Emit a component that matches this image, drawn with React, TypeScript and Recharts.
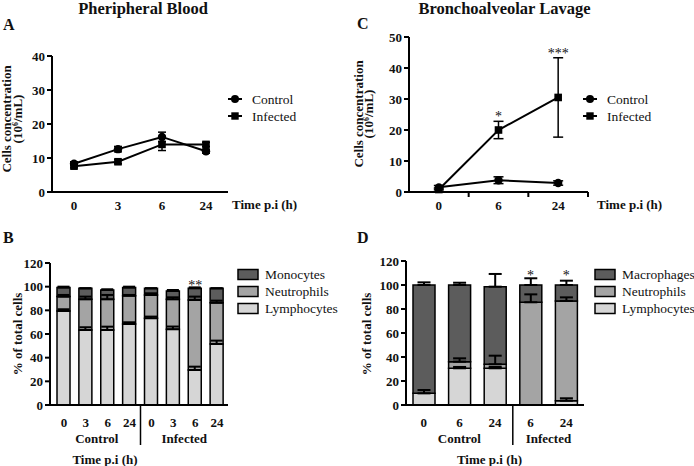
import React from 'react';
import {
  LineChart,
  Line,
  XAxis,
  YAxis,
  ErrorBar,
  ComposedChart,
  Bar,
  Legend,
} from 'recharts';

const FONT = 'Liberation Serif, DejaVu Serif, serif';
const INK = '#111';
const LIGHT = '#d6d6d6';
const MID = '#a4a4a4';
const DARK = '#5c5c5c';

// ---------- Panel A: Peripheral blood, cell concentration ----------
const timesA = ['0', '3', '6', '24'];
const controlA = [8.3, 12.6, 16.2, 12.0];
const controlAErr = [0.6, 0.8, 1.4, 0.6];
const infectedA = [7.6, 8.9, 14.0, 14.0];
const infectedAErr = [0.5, 0.6, 1.8, 0.6];

// ---------- Panel C: BAL, cell concentration ----------
const timesC = ['0', '6', '24'];
const controlC = [1.5, 3.8, 2.9];
const controlCErr = [0.6, 1.1, 0.7];
const infectedC = [0.8, 20.0, 30.5];
const infectedCErr = [0.5, 2.8, 12.8];
const starsC = ['', '*', '***'];
const starsCY = [null, 25.1, 45.5];

// ---------- Panel B: Peripheral blood, % of cells ----------
const timesB = ['0', '3', '6', '24', '0', '3', '6', '24'];
const groupsB = ['Control', 'Control', 'Control', 'Control', 'Infected', 'Infected', 'Infected', 'Infected'];
const lymphB = [79.5, 63.4, 63.4, 68.5, 73.3, 64.0, 29.6, 51.6];
const lymphBErr = [1.4, 2.3, 2.8, 1.4, 1.4, 2.3, 2.8, 2.8];
const neutB = [12.1, 25.9, 25.9, 23.9, 19.7, 25.3, 59.2, 34.9];
const neutBErr = [1.4, 2.3, 3.7, 0.6, 1.4, 1.7, 2.8, 1.7];
const monoB = [7.6, 9.3, 7.9, 6.8, 5.6, 7.1, 9.8, 12.1];
const monoBErr = [0.8, 0, 0.6, 0.8, 0, 0.8, 0.8, 0];
const starsB = ['', '', '', '', '', '', '**', ''];
const starsBY = [null, null, null, null, null, null, 103, null];

// ---------- Panel D: BAL, % of cells ----------
const timesD = ['0', '6', '24', '6', '24'];
const groupsD = ['Control', 'Control', 'Control', 'Infected', 'Infected'];
const lymphD = [9.7, 30.6, 30.6, 0, 3.6];
const lymphDErr = [2.8, 1.1, 1.1, 0, 2.0];
const neutD = [0, 5.5, 3.3, 85.6, 83.1];
const neutDErr = [0, 2.8, 7.2, 6.6, 3.0];
const macD = [90.3, 63.9, 64.7, 14.4, 13.3];
const macDErr = [2.2, 1.9, 10.6, 5.6, 3.6];
const starsD = ['', '', '', '*', '*'];
const starsDY = [null, null, null, 110, 110];

const lineSeries = ['Control', 'Infected'];
const legendB = [
  { name: 'Monocytes', color: DARK },
  { name: 'Neutrophils', color: MID },
  { name: 'Lymphocytes', color: LIGHT },
];
const legendD = [
  { name: 'Macrophages', color: DARK },
  { name: 'Neutrophils', color: MID },
  { name: 'Lymphocytes', color: LIGHT },
];

// ---------- data tables ----------
const dataA = timesA.map((t, i) => ({
  time: t,
  control: controlA[i],
  controlErr: controlAErr[i],
  infected: infectedA[i],
  infectedErr: infectedAErr[i],
}));
const dataC = timesC.map((t, i) => ({
  time: t,
  control: controlC[i],
  controlErr: controlCErr[i],
  infected: infectedC[i],
  infectedErr: infectedCErr[i],
  star: starsC[i],
  starY: starsCY[i],
}));
const dataB = timesB.map((t, i) => ({
  key: `b${i}`,
  lymph: lymphB[i],
  lymphErr: [0, lymphBErr[i]],
  neut: neutB[i],
  neutErr: [0, neutBErr[i]],
  mono: monoB[i],
  monoErr: [0, monoBErr[i]],
  star: starsB[i],
  starY: starsBY[i],
}));
const dataD = timesD.map((t, i) => ({
  key: `d${i}`,
  lymph: lymphD[i],
  lymphErr: [0, lymphDErr[i]],
  neut: neutD[i],
  neutErr: [0, neutDErr[i]],
  mac: macD[i],
  macErr: [0, macDErr[i]],
  star: starsD[i],
  starY: starsDY[i],
}));

// ---------- shared styles ----------
const axisLine = { stroke: '#000', strokeWidth: 2 };
const tickLine = { stroke: '#000', strokeWidth: 2 };
const yTick = { fontFamily: FONT, fontSize: 13, fontWeight: 700, fill: INK };
const boldText = { fontFamily: FONT, fontSize: 13, fontWeight: 700, fill: INK } as const;

const CircleDot = (p: any) =>
  p.cx == null || p.cy == null ? (
    <g key={`c${p.index}`} />
  ) : (
    <circle key={`c${p.index}`} cx={p.cx} cy={p.cy} r={4.2} fill="#000" />
  );
const SquareDot = (p: any) =>
  p.cx == null || p.cy == null ? (
    <g key={`s${p.index}`} />
  ) : (
    <rect key={`s${p.index}`} x={p.cx - 3.8} y={p.cy - 3.8} width={7.6} height={7.6} fill="#000" />
  );
const StarDot = (p: any) => {
  const s = p.payload && p.payload.star;
  if (!s || p.cy == null || p.cx == null) return <g key={`st${p.index}`} />;
  return (
    <text
      key={`st${p.index}`}
      x={p.cx}
      y={p.cy + 7}
      textAnchor="middle"
      fontFamily={FONT}
      fontSize={14}
      style={{ fill: '#111', stroke: 'none' }}
    >
      {s}
    </text>
  );
};

const LineLegend = () => (
  <svg width={110} height={36} style={{ overflow: 'visible', display: 'block' }}>
    {lineSeries.map((name, i) => {
      const cy = 8 + i * 17;
      return (
        <g key={name}>
          <line x1={3} x2={17} y1={cy} y2={cy} stroke="#000" strokeWidth={2} />
          {i === 0 ? (
            <circle cx={10} cy={cy} r={4} fill="#000" />
          ) : (
            <rect x={6.3} y={cy - 3.7} width={7.4} height={7.4} fill="#000" />
          )}
          <text x={27} y={cy + 4.5} fontFamily={FONT} fontSize={13.5} fill={INK}>
            {name}
          </text>
        </g>
      );
    })}
  </svg>
);

const BarLegend = ({ items }: { items: { name: string; color: string }[] }) => (
  <svg width={112} height={52} style={{ overflow: 'visible', display: 'block' }}>
    {items.map((it, i) => {
      const cy = 7.5 + i * 17;
      return (
        <g key={it.name}>
          <rect x={2} y={cy - 5} width={20} height={10} fill={it.color} stroke="#000" strokeWidth={1.5} />
          <text x={29} y={cy + 4.5} fontFamily={FONT} fontSize={13.5} fill={INK}>
            {it.name}
          </text>
        </g>
      );
    })}
  </svg>
);

const makeLineTick = (labels: string[], band: number, boundaryTicks: boolean) => (p: any) => {
  const { x, y, index } = p;
  return (
    <g>
      <text x={x} y={y + 17.5} textAnchor="middle" {...boldText}>
        {labels[index]}
      </text>
      {boundaryTicks ? (
        <line x1={x + band / 2} x2={x + band / 2} y1={y} y2={y + 5} stroke="#000" strokeWidth={2} />
      ) : null}
    </g>
  );
};

function groupInfo(groups: string[]) {
  const names: string[] = [];
  groups.forEach((g) => {
    if (names.indexOf(g) < 0) names.push(g);
  });
  return names.map((n) => {
    const idx = groups.map((g, i) => (g === n ? i : -1)).filter((i) => i >= 0);
    return { name: n, first: idx[0], center: (idx[0] + idx[idx.length - 1]) / 2 };
  });
}

const makeBarTick = (labels: string[], groups: string[], band: number) => (p: any) => {
  const { x, y, index } = p;
  const info = groupInfo(groups);
  const kids: any[] = [
    <text key="l" x={x} y={y + 21.5} textAnchor="middle" {...boldText}>
      {labels[index]}
    </text>,
  ];
  info.forEach((g, gi) => {
    if (gi > 0 && g.first === index) {
      kids.push(
        <line key="div" x1={x - band / 2} x2={x - band / 2} y1={y} y2={y + 40} stroke="#000" strokeWidth={1.5} />
      );
    }
    if (Math.floor(g.center) === index) {
      kids.push(
        <text key={`g${gi}`} x={x + (g.center - index) * band} y={y + 38} textAnchor="middle" {...boldText}>
          {g.name}
        </text>
      );
    }
  });
  return <g>{kids}</g>;
};

// ---------- geometry ----------
const A_PLOT_W = 176;
const bandA = A_PLOT_W / timesA.length;
const C_PLOT_W = 179;
const bandC = C_PLOT_W / timesC.length;
const B_PAD = 3;
const bandB = (178 - B_PAD) / timesB.length;
const bandD = 178 / timesD.length;

function PanelA() {
  return (
    <LineChart width={347} height={233} data={dataA} margin={{ top: 56, right: 119, bottom: 0, left: 22 }}>
      <XAxis
        dataKey="time"
        type="category"
        scale="point"
        padding={{ left: bandA / 2, right: bandA / 2 }}
        height={41}
        axisLine={axisLine}
        tickLine={false}
        tickSize={0}
        tickMargin={0}
        interval={0}
        tick={makeLineTick(timesA, bandA, false)}
      />
      <YAxis
        type="number"
        domain={[0, 40]}
        ticks={[0, 10, 20, 30, 40]}
        interval={0}
        width={30}
        axisLine={axisLine}
        tickLine={tickLine}
        tickSize={5}
        tickMargin={2}
        tick={yTick}
      />
      <Line dataKey="infected" stroke="#000" strokeWidth={2} dot={SquareDot} activeDot={false} isAnimationActive={false}>
        <ErrorBar dataKey="infectedErr" width={4} stroke="#000" strokeWidth={1.5} direction="y" />
      </Line>
      <Line dataKey="control" stroke="#000" strokeWidth={2} dot={CircleDot} activeDot={false} isAnimationActive={false}>
        <ErrorBar dataKey="controlErr" width={4} stroke="#000" strokeWidth={1.5} direction="y" />
      </Line>
      <Legend
        layout="horizontal"
        verticalAlign="middle"
        align="center"
        wrapperStyle={{ left: 225, top: 90.5, width: 110, margin: 0 }}
        content={() => <LineLegend />}
      />
    </LineChart>
  );
}

function PanelC() {
  return (
    <LineChart width={347} height={233} data={dataC} margin={{ top: 37, right: 106, bottom: 0, left: 32 }}>
      <XAxis
        dataKey="time"
        type="category"
        scale="point"
        padding={{ left: bandC / 2, right: bandC / 2 }}
        height={41}
        axisLine={axisLine}
        tickLine={false}
        tickSize={0}
        tickMargin={0}
        interval={0}
        tick={makeLineTick(timesC, bandC, true)}
      />
      <YAxis
        type="number"
        domain={[0, 50]}
        ticks={[0, 10, 20, 30, 40, 50]}
        interval={0}
        width={30}
        axisLine={axisLine}
        tickLine={tickLine}
        tickSize={5}
        tickMargin={2}
        tick={yTick}
      />
      <Line dataKey="infected" stroke="#000" strokeWidth={2} dot={SquareDot} activeDot={false} isAnimationActive={false}>
        <ErrorBar dataKey="infectedErr" width={5} stroke="#000" strokeWidth={1.5} direction="y" />
      </Line>
      <Line dataKey="control" stroke="#000" strokeWidth={2} dot={CircleDot} activeDot={false} isAnimationActive={false}>
        <ErrorBar dataKey="controlErr" width={5} stroke="#000" strokeWidth={1.5} direction="y" />
      </Line>
      <Line
        dataKey="starY"
        stroke="none"
        dot={StarDot}
        activeDot={false}
        legendType="none"
        isAnimationActive={false}
      />
      <Legend
        layout="horizontal"
        verticalAlign="middle"
        align="center"
        wrapperStyle={{ left: 233, top: 91, width: 110, margin: 0 }}
        content={() => <LineLegend />}
      />
    </LineChart>
  );
}

function PanelB() {
  return (
    <ComposedChart width={347} height={233} data={dataB} margin={{ top: 30, right: 119, bottom: 0, left: 20 }}>
      <XAxis
        dataKey="key"
        height={61}
        padding={{ left: B_PAD, right: 0 }}
        axisLine={axisLine}
        tickLine={false}
        tickSize={0}
        tickMargin={0}
        interval={0}
        tick={makeBarTick(timesB, groupsB, bandB)}
      />
      <YAxis
        type="number"
        domain={[0, 120]}
        ticks={[0, 20, 40, 60, 80, 100, 120]}
        interval={0}
        width={30}
        axisLine={axisLine}
        tickLine={tickLine}
        tickSize={5}
        tickMargin={2}
        tick={yTick}
      />
      <Bar dataKey="lymph" stackId="s" fill={LIGHT} stroke="#000" strokeWidth={1.5} barSize={13} isAnimationActive={false}>
        <ErrorBar dataKey="lymphErr" width={6} stroke="#000" strokeWidth={2} direction="y" />
      </Bar>
      <Bar dataKey="neut" stackId="s" fill={MID} stroke="#000" strokeWidth={1.5} barSize={13} isAnimationActive={false}>
        <ErrorBar dataKey="neutErr" width={6} stroke="#000" strokeWidth={2} direction="y" />
      </Bar>
      <Bar dataKey="mono" stackId="s" fill={DARK} stroke="#000" strokeWidth={1.5} barSize={13} isAnimationActive={false}>
        <ErrorBar dataKey="monoErr" width={6} stroke="#000" strokeWidth={2} direction="y" />
      </Bar>
      <Line dataKey="starY" stroke="none" dot={StarDot} activeDot={false} legendType="none" isAnimationActive={false} />
      <Legend
        layout="horizontal"
        verticalAlign="middle"
        align="center"
        wrapperStyle={{ left: 236, top: 34, width: 112, margin: 0 }}
        content={() => <BarLegend items={legendB} />}
      />
    </ComposedChart>
  );
}

function PanelD() {
  return (
    <ComposedChart width={347} height={233} data={dataD} margin={{ top: 28, right: 110, bottom: 0, left: 29 }}>
      <XAxis
        dataKey="key"
        height={61}
        axisLine={axisLine}
        tickLine={false}
        tickSize={0}
        tickMargin={0}
        interval={0}
        tick={makeBarTick(timesD, groupsD, bandD)}
      />
      <YAxis
        type="number"
        domain={[0, 120]}
        ticks={[0, 20, 40, 60, 80, 100, 120]}
        interval={0}
        width={30}
        axisLine={axisLine}
        tickLine={tickLine}
        tickSize={5}
        tickMargin={2}
        tick={yTick}
      />
      <Bar dataKey="lymph" stackId="s" fill={LIGHT} stroke="#000" strokeWidth={1.5} barSize={22} isAnimationActive={false}>
        <ErrorBar dataKey="lymphErr" width={6.5} stroke="#000" strokeWidth={2} direction="y" />
      </Bar>
      <Bar dataKey="neut" stackId="s" fill={MID} stroke="#000" strokeWidth={1.5} barSize={22} isAnimationActive={false}>
        <ErrorBar dataKey="neutErr" width={6.5} stroke="#000" strokeWidth={2} direction="y" />
      </Bar>
      <Bar dataKey="mac" stackId="s" fill={DARK} stroke="#000" strokeWidth={1.5} barSize={22} isAnimationActive={false}>
        <ErrorBar dataKey="macErr" width={6.5} stroke="#000" strokeWidth={2} direction="y" />
      </Bar>
      <Line dataKey="starY" stroke="none" dot={StarDot} activeDot={false} legendType="none" isAnimationActive={false} />
      <Legend
        layout="horizontal"
        verticalAlign="middle"
        align="center"
        wrapperStyle={{ left: 246, top: 34, width: 112, margin: 0 }}
        content={() => <BarLegend items={legendD} />}
      />
    </ComposedChart>
  );
}

const RotLabel = ({ x, y, children, size = 13 }: any) => (
  <text
    transform={`translate(${x},${y}) rotate(-90)`}
    textAnchor="middle"
    fontFamily={FONT}
    fontSize={size}
    fontWeight={700}
    fill={INK}
  >
    {children}
  </text>
);

const Sup = () => (
  <>
    (10
    <tspan dy={-4} fontSize={8}>
      6
    </tspan>
    <tspan dy={4}>/mL)</tspan>
  </>
);

export default function App() {
  return (
    <div
      style={{
        position: 'absolute',
        left: 0,
        top: 0,
        width: 694,
        height: 466,
        background: '#fff',
        overflow: 'hidden',
        fontFamily: FONT,
      }}
    >
      <div style={{ position: 'absolute', left: 0, top: 0 }}>
        <PanelA />
      </div>
      <div style={{ position: 'absolute', left: 347, top: 0 }}>
        <PanelC />
      </div>
      <div style={{ position: 'absolute', left: 0, top: 233 }}>
        <PanelB />
      </div>
      <div style={{ position: 'absolute', left: 347, top: 233 }}>
        <PanelD />
      </div>
      <svg
        width={694}
        height={466}
        style={{ position: 'absolute', left: 0, top: 0, pointerEvents: 'none' }}
      >
        <text x={143} y={13.5} textAnchor="middle" fontFamily={FONT} fontSize={16.5} fontWeight={700} fill={INK}>
          Pheripheral Blood
        </text>
        <text x={504.5} y={13.5} textAnchor="middle" fontFamily={FONT} fontSize={16.5} fontWeight={700} fill={INK}>
          Bronchoalveolar Lavage
        </text>
        <text x={3} y={30} fontFamily={FONT} fontSize={16} fontWeight={700} fill={INK}>A</text>
        <text x={357} y={29} fontFamily={FONT} fontSize={16} fontWeight={700} fill={INK}>C</text>
        <text x={3} y={243} fontFamily={FONT} fontSize={16} fontWeight={700} fill={INK}>B</text>
        <text x={357} y={243} fontFamily={FONT} fontSize={16} fontWeight={700} fill={INK}>D</text>

        <RotLabel x={11} y={119}>Cells concentration</RotLabel>
        <RotLabel x={21.5} y={119}><Sup /></RotLabel>
        <RotLabel x={363} y={114}>Cells concentration</RotLabel>
        <RotLabel x={373} y={114}><Sup /></RotLabel>
        <RotLabel x={22} y={334}>% of total cells</RotLabel>
        <RotLabel x={370.5} y={334}>% of total cells</RotLabel>

        <text x={232} y={209} {...boldText}>Time p.i (h)</text>
        <text x={597} y={209} {...boldText}>Time p.i (h)</text>
        <text x={105} y={464} textAnchor="middle" {...boldText}>Time p.i (h)</text>
        <text x={489.5} y={464} textAnchor="middle" {...boldText}>Time p.i (h)</text>
      </svg>
    </div>
  );
}
